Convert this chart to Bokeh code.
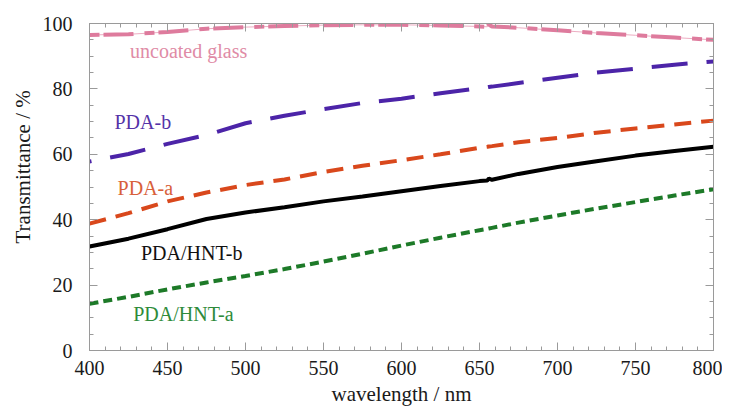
from bokeh.plotting import figure
from bokeh.models import Range1d, LinearAxis, SingleIntervalTicker, Label, Title, CustomJSTickFormatter
from bokeh.embed import file_html
from bokeh.resources import INLINE

# ---- data ----
wavelength = [400, 425, 450, 475, 500, 525, 550, 575, 600, 625, 650, 655, 656, 658,
              675, 700, 725, 750, 775, 800]
uncoated_glass = [96.5, 96.7, 97.4, 98.4, 98.9, 99.2, 99.5, 99.6, 99.6, 99.4, 99.1, 99.0,
                  99.7, 99.1, 98.7, 97.9, 97.1, 96.4, 95.7, 95.0]
pda_b = [57.8, 60.1, 63.2, 65.9, 69.5, 71.8, 73.8, 75.7, 77.0, 78.7, 80.2, 80.5, 80.6, 80.7,
         81.8, 83.4, 85.0, 86.2, 87.4, 88.4]
pda_a = [38.8, 42.0, 45.6, 48.3, 50.6, 52.3, 54.6, 56.5, 58.2, 60.0, 62.0, 62.3, 62.4, 62.5,
         63.7, 65.0, 66.6, 67.9, 69.1, 70.3]
pda_hnt_b = [31.8, 34.2, 37.1, 40.2, 42.2, 43.8, 45.6, 47.1, 48.7, 50.3, 51.8, 52.0, 52.6, 52.2,
             54.0, 56.1, 57.9, 59.6, 61.0, 62.3]
pda_hnt_a = [14.3, 16.4, 18.7, 20.8, 22.8, 24.9, 27.2, 29.6, 32.1, 34.5, 36.8, 37.2, 37.3, 37.5,
             39.1, 41.3, 43.4, 45.4, 47.4, 49.3]

series_names = ["uncoated glass", "PDA-b", "PDA-a", "PDA/HNT-b", "PDA/HNT-a"]
label_x = [426, 416, 418, 433, 428]
label_y = [91.7, 69.8, 49.7, 29.8, 11.3]

x_title = "wavelength / nm"
y_title = "Transmittance / %"

x_ticks_interval = 50
y_ticks_interval = 20

FONT = "'Liberation Serif', 'Times New Roman', serif"
GRAY = "#9a9a9a"

p = figure(width=722, height=408, x_range=Range1d(400, 800), y_range=Range1d(0, 100),
           output_backend="svg", toolbar_location=None,
           min_border_left=89, min_border_right=9, min_border_top=23, min_border_bottom=58)
p.xgrid.visible = False
p.ygrid.visible = False
p.outline_line_color = GRAY
p.background_fill_color = "white"
p.border_fill_color = "white"

def style_axis(ax, show_labels):
    ax.axis_line_color = GRAY
    ax.major_tick_line_color = GRAY
    ax.minor_tick_line_color = GRAY
    ax.major_tick_in = 8
    ax.major_tick_out = 0
    ax.minor_tick_in = 4
    ax.minor_tick_out = 0
    if show_labels:
        ax.major_label_text_font = FONT
        ax.major_label_text_font_size = "20px"
        ax.major_label_text_color = "#1a1a1a"
    else:
        ax.formatter = CustomJSTickFormatter(code="return ''")
        ax.major_label_standoff = 0

p.xaxis.ticker = SingleIntervalTicker(interval=x_ticks_interval, num_minor_ticks=5)
p.yaxis.ticker = SingleIntervalTicker(interval=y_ticks_interval, num_minor_ticks=4)
style_axis(p.xaxis[0], True)
style_axis(p.yaxis[0], True)
p.xaxis.major_label_standoff = 10
p.yaxis.major_label_standoff = 17
p.xaxis.axis_label = x_title
p.xaxis.axis_label_text_font = FONT
p.xaxis.axis_label_text_font_size = "21px"
p.xaxis.axis_label_text_font_style = "normal"
p.xaxis.axis_label_text_color = "#1a1a1a"
p.xaxis.axis_label_standoff = 4

top = LinearAxis(ticker=SingleIntervalTicker(interval=x_ticks_interval, num_minor_ticks=5))
style_axis(top, False)
p.add_layout(top, "above")
right = LinearAxis(ticker=SingleIntervalTicker(interval=y_ticks_interval, num_minor_ticks=4))
style_axis(right, False)
p.add_layout(right, "right")

# y-axis title (placed like the reference, a little above the frame centre)
p.add_layout(Title(text=y_title, text_font=FONT, text_font_size="21px",
                   text_font_style="normal", text_color="#1a1a1a",
                   align="left", offset=107, standoff=10), "left")

# curves
p.line(wavelength, uncoated_glass, line_color="#e48aa8", line_width=1, line_alpha=0.7)
p.line(wavelength, uncoated_glass, line_color="#de7b9d", line_width=4,
       line_dash="10 4 30 11", line_dash_offset=0)
p.line(wavelength, pda_b, line_color="#4c24a8", line_width=4, line_dash="36 19",
       line_dash_offset=34)
p.line(wavelength, pda_a, line_color="#d9481c", line_width=4, line_dash="17 10")
p.line(wavelength, pda_hnt_b, line_color="#000000", line_width=4)
p.line(wavelength, pda_hnt_a, line_color="#1d7a28", line_width=4, line_dash="9 5")

label_colors = ["#e08ba6", "#5533a8", "#d8603a", "#111111", "#2e8b3a"]
for name, lx, ly, c in zip(series_names, label_x, label_y, label_colors):
    p.add_layout(Label(x=lx, y=ly, text=name, text_font=FONT, text_font_size="20px",
                       text_color=c, text_baseline="middle", text_align="left"))

open("out.html", "w").write(file_html(p, INLINE))
